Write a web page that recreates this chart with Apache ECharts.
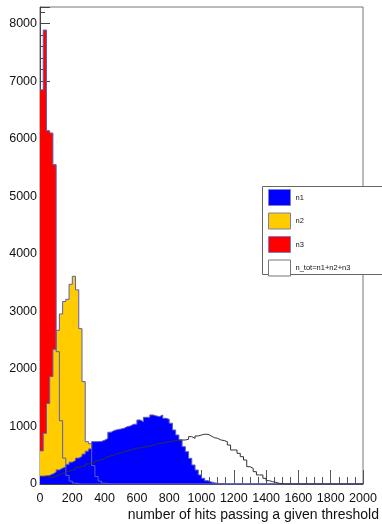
<!DOCTYPE html>
<html>
<head>
<meta charset="utf-8">
<script src="https://cdn.jsdelivr.net/npm/echarts@6/dist/echarts.min.js"></script>
<style>
  html, body { margin: 0; padding: 0; background: #fff; }
  #chart { width: 382px; height: 524px; }
</style>
</head>
<body>
<div id="chart"></div>
<script>
// Histogram binning: 100 bins of width 20 over [0, 2000)
const binWidth = 20;
const nBins = 100;

// n1 counts per bin
const n1 = [
  130, 145, 150, 175, 205, 245, 275, 300, 340, 380,
  410, 450, 480, 520, 570, 610, 736, 736, 740, 760,
  790, 900, 930, 945, 955, 968, 997, 1009, 1038, 1040,
  1113, 1084, 1159, 1159, 1200, 1183, 1171, 1200, 1142, 1125,
  1056, 939, 852, 765, 649, 562, 446, 330, 243, 157,
  99, 58, 35, 20, 12, 5, 2, 0, 0, 0,
  0, 0, 0, 0, 0, 0, 0, 0, 0, 0,
  0, 0, 0, 0, 0, 0, 0, 0, 0, 0,
  0, 0, 0, 0, 0, 0, 0, 0, 0, 0,
  0, 0, 0, 0, 0, 0, 0, 0, 0, 0
];

// n2 counts per bin
const n2 = [
  575, 880, 1400, 1867, 2340, 2670, 2955, 3171, 3210, 3470,
  3610, 3374, 2700, 1780, 736, 700, 320, 130, 50, 15,
  5, 0, 0, 0, 0, 0, 0, 0, 0, 0,
  0, 0, 0, 0, 0, 0, 0, 0, 0, 0,
  0, 0, 0, 0, 0, 0, 0, 0, 0, 0,
  0, 0, 0, 0, 0, 0, 0, 0, 0, 0,
  0, 0, 0, 0, 0, 0, 0, 0, 0, 0,
  0, 0, 0, 0, 0, 0, 0, 0, 0, 0,
  0, 0, 0, 0, 0, 0, 0, 0, 0, 0,
  0, 0, 0, 0, 0, 0, 0, 0, 0, 0
];

// n3 counts per bin
const n3 = [
  6850, 7890, 6140, 6100, 5550, 2300, 1100, 450, 150, 50,
  15, 5, 0, 0, 0, 0, 0, 0, 0, 0,
  0, 0, 0, 0, 0, 0, 0, 0, 0, 0,
  0, 0, 0, 0, 0, 0, 0, 0, 0, 0,
  0, 0, 0, 0, 0, 0, 0, 0, 0, 0,
  0, 0, 0, 0, 0, 0, 0, 0, 0, 0,
  0, 0, 0, 0, 0, 0, 0, 0, 0, 0,
  0, 0, 0, 0, 0, 0, 0, 0, 0, 0,
  0, 0, 0, 0, 0, 0, 0, 0, 0, 0,
  0, 0, 0, 0, 0, 0, 0, 0, 0, 0
];

// n_tot = n1+n2+n3 counts per bin
const nTot = [
  135, 130, 120, 116, 130, 157, 186, 200, 226, 240,
  255, 290, 300, 313, 348, 360, 371, 406, 420, 446,
  475, 490, 504, 533, 540, 562, 575, 591, 603, 626,
  626, 638, 650, 661, 678, 690, 707, 715, 725, 736,
  745, 754, 765, 765, 765, 777, 823, 794, 835, 852,
  864, 864, 835, 805, 794, 765, 755, 736, 678, 591,
  591, 533, 475, 417, 301, 272, 214, 157, 157, 99,
  58, 41, 30, 12, 5, 0, 0, 0, 0, 0,
  0, 0, 0, 0, 0, 0, 0, 0, 0, 0,
  0, 0, 0, 0, 0, 0, 0, 0, 0, 0
];

const seriesNames = ['n1', 'n2', 'n3', 'n_tot=n1+n2+n3'];
const xTitle = 'number of hits passing a given threshold';

// Step points at bin lower edges plus the closing upper edge
function toSteps(counts) {
  const pts = counts.map((v, i) => [i * binWidth, v]);
  pts.push([nBins * binWidth, counts[counts.length - 1]]);
  return pts;
}

const font = '"Liberation Sans", Arial, Helvetica, sans-serif';
const edge = '#5e5eb8';

function hist(name, counts, fill, z) {
  return {
    name: name,
    type: 'line',
    step: 'end',
    symbol: 'none',
    data: toSteps(counts),
    z: z,
    lineStyle: { color: edge, width: 1 },
    areaStyle: { color: fill, opacity: 1 },
    itemStyle: { color: fill, borderColor: edge, borderWidth: 1 },
    silent: true
  };
}

const chart = echarts.init(document.getElementById('chart'), null, { renderer: 'canvas' });

chart.setOption({
  animation: false,
  backgroundColor: '#fff',
  grid: {
    left: 40, right: 17, top: 7, bottom: 40,
    show: true, borderColor: '#777', borderWidth: 1, backgroundColor: 'transparent'
  },
  xAxis: {
    type: 'value',
    min: 0, max: 2000, interval: 200,
    name: xTitle,
    nameLocation: 'end',
    nameGap: 16,
    nameTextStyle: {
      fontFamily: font, fontSize: 14, color: '#111',
      align: 'right', verticalAlign: 'top', padding: [24, 0, 0, 0]
    },
    axisLine: { show: true, lineStyle: { color: '#444', width: 1 } },
    axisTick: { show: true, inside: true, length: 14, lineStyle: { color: '#555' } },
    minorTick: { show: true, splitNumber: 4, length: 7, lineStyle: { color: '#555' } },
    splitLine: { show: false },
    axisLabel: {
      fontFamily: font, fontSize: 12.5, color: '#111', margin: 8,
      formatter: v => String(v)
    }
  },
  yAxis: {
    type: 'value',
    min: 0, max: 8290, interval: 1000,
    axisLine: { show: true, lineStyle: { color: '#444', width: 1 } },
    axisTick: { show: true, inside: true, length: 10, lineStyle: { color: '#444' } },
    minorTick: { show: true, splitNumber: 5, length: 5, lineStyle: { color: '#444' } },
    splitLine: { show: false },
    axisLabel: {
      fontFamily: font, fontSize: 12.5, color: '#111', margin: 3,
      formatter: v => (v % 1000 === 0 ? String(v) : '')
    }
  },
  legend: {
    orient: 'vertical',
    left: 268, top: 189,
    padding: 0,
    itemWidth: 22, itemHeight: 16, itemGap: 6.5,
    icon: 'rect',
    z: 6,
    textStyle: { fontFamily: font, fontSize: 7.5, color: '#111' },
    data: [
      { name: seriesNames[0], itemStyle: { color: '#0000ff', borderColor: '#8080c8', borderWidth: 1 } },
      { name: seriesNames[1], itemStyle: { color: '#ffcc00', borderColor: '#8080a8', borderWidth: 1 } },
      { name: seriesNames[2], itemStyle: { color: '#ff0000', borderColor: '#8080c8', borderWidth: 1 } },
      { name: seriesNames[3], itemStyle: { color: '#ffffff', borderColor: '#777777', borderWidth: 1 } }
    ]
  },
  graphic: [{
    type: 'rect',
    z: 5,
    shape: { x: 262.5, y: 186.5, width: 130, height: 88 },
    style: { fill: '#fff', stroke: '#666', lineWidth: 1 }
  }],
  series: [
    hist(seriesNames[2], n3, '#ff0000', 2),
    hist(seriesNames[1], n2, '#ffcc00', 2),
    hist(seriesNames[0], n1, '#0000ff', 2),
    {
      name: seriesNames[3],
      type: 'line',
      step: 'end',
      symbol: 'none',
      data: toSteps(nTot),
      z: 3,
      lineStyle: { color: '#333', width: 1 },
      itemStyle: { color: '#ffffff', borderColor: '#777', borderWidth: 1 },
      silent: true
    }
  ]
});
</script>
</body>
</html>
